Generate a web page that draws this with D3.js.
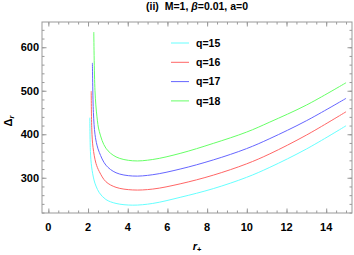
<!DOCTYPE html>
<html>
<head>
<meta charset="utf-8">
<script src="https://cdn.jsdelivr.net/npm/d3@7"></script>
<style>
  body { margin: 0; background: #fff; }
  svg text { font-family: "Liberation Sans", Arial, sans-serif; }
</style>
</head>
<body>
<svg id="chart" width="354" height="255"></svg>
<script>
// series: [r+, Δr]
const q15 = [[2.09, 438], [2.12, 360], [2.18, 325], [2.3, 295], [2.4, 281], [2.57, 265.5], [2.9, 250], [3.41, 241],
  [4.25, 237], [5.26, 241], [6.64, 255], [8.31, 275], [9.99, 301], [11.16, 324], [13, 366], [15, 419.5]]
const q16 = [[2.16, 499], [2.19, 410], [2.25, 370], [2.4, 333], [2.57, 314], [2.9, 291], [3.41, 278],
  [4.25, 272], [5.26, 274], [6.64, 286], [8.31, 306], [9.99, 332], [11.16, 355], [13, 398], [15, 451.7]]
const q17 = [[2.22, 564], [2.27, 450], [2.35, 400], [2.45, 375], [2.57, 358], [2.9, 329], [3.41, 311.5],
  [4.25, 304], [5.26, 307], [6.64, 320], [8.31, 341], [9.99, 367], [11.16, 390], [13, 431], [15, 482.5]]
const q18 = [[2.29, 635], [2.35, 500], [2.45, 440], [2.57, 406], [2.9, 368], [3.41, 348],
  [4.25, 339], [5.26, 342], [6.64, 356], [8.31, 379], [9.99, 405], [11.16, 428], [13, 467], [15, 518.4]]

const seriesNames = ['q=15', 'q=16', 'q=17', 'q=18']
const seriesData = [q15, q16, q17, q18]
const seriesColors = ['#66ffff', '#ff6666', '#6666ff', '#66ff66']

const xTicks = [0, 2, 4, 6, 8, 10, 12, 14]
const yTicks = [300, 400, 500, 600]

const style = {
    pdg: { l: 42, r: 352, t: 22, b: 213 },
    frame: '#999999'
}

const svg = d3.select('#chart')

const x = d3.scaleLinear().domain([-0.32, 15.3]).range([style.pdg.l, style.pdg.r])
const y = d3.scaleLinear().domain([219, 658]).range([style.pdg.b, style.pdg.t])

// title
svg.append('text')
    .attr('x', 197)
    .attr('y', 10)
    .attr('text-anchor', 'middle')
    .style('font-size', '10.5px')
    .style('font-weight', 'bold')
    .html('(ii)&#160; M=1, <tspan font-style="italic">β</tspan>=0.01, a=0')

// curves, clipped to the frame
svg.append('clipPath').attr('id', 'clippy')
    .append('rect')
    .attr('x', style.pdg.l).attr('y', style.pdg.t)
    .attr('width', style.pdg.r - style.pdg.l).attr('height', style.pdg.b - style.pdg.t)

const line = d3.line()
    .x(d => x(d[0]))
    .y(d => y(d[1]))
    .curve(d3.curveCatmullRom.alpha(0.5))

svg.append('g')
    .attr('clip-path', 'url(#clippy)')
    .selectAll('path')
    .data(seriesData)
    .enter()
    .append('path')
    .attr('d', line)
    .attr('fill', 'none')
    .attr('stroke', (d, i) => seriesColors[i])
    .attr('stroke-width', 1)

// frame with inward ticks on all four sides
function drawFrameAxis(axis, transform) {
    const g = svg.append('g').attr('transform', transform).call(axis)
    g.select('.domain').remove()
    g.selectAll('.tick line').attr('stroke', style.frame)
    g.selectAll('text').remove()
    return g
}

const xMinor = d3.range(0, 15.01, 0.5)
const yMinor = d3.range(220, 660, 20)

drawFrameAxis(d3.axisBottom(x).tickValues(xMinor).tickSize(-2.5), `translate(0,${style.pdg.b})`)
drawFrameAxis(d3.axisBottom(x).tickValues(xTicks).tickSize(-4.5), `translate(0,${style.pdg.b})`)
drawFrameAxis(d3.axisTop(x).tickValues(xMinor).tickSize(-2.5), `translate(0,${style.pdg.t})`)
drawFrameAxis(d3.axisTop(x).tickValues(xTicks).tickSize(-4.5), `translate(0,${style.pdg.t})`)
drawFrameAxis(d3.axisLeft(y).tickValues(yMinor).tickSize(-2.5), `translate(${style.pdg.l},0)`)
drawFrameAxis(d3.axisLeft(y).tickValues(yTicks).tickSize(-4.5), `translate(${style.pdg.l},0)`)
drawFrameAxis(d3.axisRight(y).tickValues(yMinor).tickSize(-2.5), `translate(${style.pdg.r},0)`)
drawFrameAxis(d3.axisRight(y).tickValues(yTicks).tickSize(-4.5), `translate(${style.pdg.r},0)`)

svg.append('rect')
    .attr('x', style.pdg.l).attr('y', style.pdg.t)
    .attr('width', style.pdg.r - style.pdg.l).attr('height', style.pdg.b - style.pdg.t)
    .attr('fill', 'none')
    .attr('stroke', style.frame)
    .attr('stroke-width', 1)

// tick labels
svg.append('g').selectAll('text')
    .data(xTicks)
    .enter()
    .append('text')
    .attr('x', d => x(d))
    .attr('y', 231)
    .attr('text-anchor', 'middle')
    .style('font-size', '11px')
    .style('font-weight', 'bold')
    .text(d => d)

svg.append('g').selectAll('text')
    .data(yTicks)
    .enter()
    .append('text')
    .attr('x', 39)
    .attr('y', d => y(d))
    .attr('dy', '0.35em')
    .attr('text-anchor', 'end')
    .style('font-size', '11px')
    .style('font-weight', 'bold')
    .text(d => d)

// axis labels
svg.append('text')
    .attr('transform', 'translate(12,121) rotate(-90)')
    .attr('text-anchor', 'middle')
    .style('font-size', '11px')
    .style('font-weight', 'bold')
    .html('Δ<tspan font-style="italic" font-size="7.5px" dy="2">r</tspan>')

svg.append('text')
    .attr('x', 197)
    .attr('y', 250)
    .attr('text-anchor', 'middle')
    .style('font-size', '11px')
    .style('font-weight', 'bold')
    .html('<tspan font-style="italic">r</tspan><tspan font-size="7.5px" dy="2">+</tspan>')

// legend
const legendG = svg.append('g')
    .selectAll('g')
    .data(seriesNames)
    .enter()
    .append('g')
    .attr('transform', (d, i) => `translate(0,${43 + i * 19.3})`)

legendG.append('line')
    .attr('x1', 171).attr('x2', 189)
    .attr('stroke', (d, i) => seriesColors[i])
    .attr('stroke-width', 1)

legendG.append('text')
    .attr('x', 196)
    .attr('dy', '0.35em')
    .style('font-size', '10.5px')
    .style('font-weight', 'bold')
    .text(d => d)
</script>
</body>
</html>
